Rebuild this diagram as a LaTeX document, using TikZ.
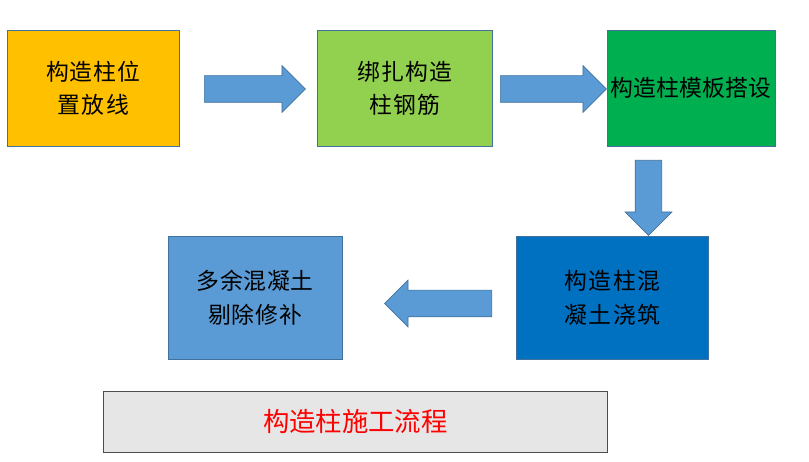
\documentclass[tikz,border=0pt]{standalone}
\usepackage{fontspec}
\setmainfont{Noto Sans CJK SC}
\XeTeXlinebreaklocale "zh"
\XeTeXlinebreakskip = 0pt plus 1pt
\usetikzlibrary{shapes.arrows}
\definecolor{cOrange}{HTML}{FFC000}
\definecolor{cLime}{HTML}{92D050}
\definecolor{cGreen}{HTML}{00B050}
\definecolor{cBlue}{HTML}{0070C0}
\definecolor{cSky}{HTML}{5B9BD5}
\definecolor{cEdge}{HTML}{41719C}
\definecolor{cGrey}{HTML}{E7E6E6}
\tikzset{
  step/.style = {draw = cEdge, anchor = north west, minimum width = #1, minimum height = 2.32cm,
                 text width = 3.0cm, align = center, font = \fontsize{13}{19}\selectfont, inner sep = 0pt},
  flow/.style = {single arrow, draw = cEdge, fill = cSky, minimum height = #1, anchor = tail,
                 minimum width = 0.92cm, single arrow head extend = 0.2cm,
                 inner xsep = 0pt, inner ysep = 0.26cm},
}
\begin{document}
\begin{tikzpicture}[x = 0.02cm, y = -0.02cm]
        \useasboundingbox (0,0) rectangle (809,462);
        
        \node [step = 3.44cm, fill = cOrange] (layout) at (7,30) {构造柱位置放线};
        \node [step = 3.5cm, fill = cLime] (rebar) at (317,30) {绑扎构造柱钢筋};
        \node [step = 3.36cm, fill = cGreen, text width = 3.36cm] (form) at (607,30) {构造柱模板搭设};
        \node [step = 3.84cm, fill = cBlue, text width = 3.4cm, minimum height = 2.46cm] (pour) at (516,236) {构造柱混凝土浇筑};
        \node [step = 3.48cm, fill = cSky, minimum height = 2.46cm] (repair) at (168,236) {多余混凝土剔除修补};
        
        \node [flow = 2.02cm] (a1) at (204,89) {};
        \node [flow = 2.12cm] (a2) at (500,89) {};
        \node [flow = 1.5cm, rotate = -90] (a3) at (648.5,160) {};
        \node [flow = 2.14cm, rotate = 180] (a4) at (492,303.5) {};
        
        \node [draw = black!70, fill = cGrey, anchor = north west, minimum width = 10.08cm,
               minimum height = 1.22cm, text = red, font = \fontsize{15}{18}\selectfont] (title)
               at (103,391) {构造柱施工流程};
    \end{tikzpicture}
\end{document}
